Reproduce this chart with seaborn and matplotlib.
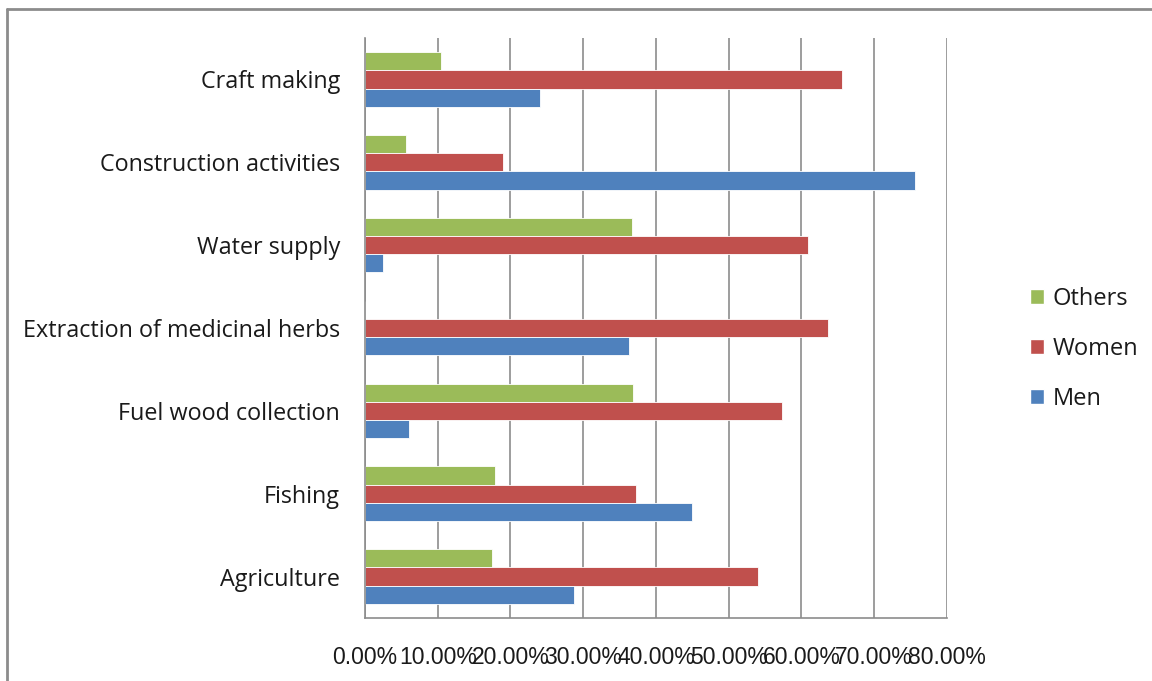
import matplotlib
matplotlib.use("Agg")
import matplotlib.pyplot as plt
import matplotlib.ticker as mticker
from matplotlib.lines import Line2D
from matplotlib.patches import Patch
import numpy as np
import pandas as pd
import seaborn as sns

# values (fractions)
activities = ["Craft making", "Construction activities", "Water supply",
              "Extraction of medicinal herbs", "Fuel wood collection",
              "Fishing", "Agriculture"]
others = [0.105, 0.056, 0.367, 0.0, 0.369, 0.179, 0.175]
women = [0.656, 0.190, 0.609, 0.637, 0.573, 0.373, 0.540]
men = [0.241, 0.756, 0.025, 0.363, 0.060, 0.450, 0.288]

groups = ["Others", "Women", "Men"]
colors = {"Others": "#9BBB59", "Women": "#C0504D", "Men": "#4F81BD"}
x_ticks = np.arange(0, 0.81, 0.1)

df = pd.DataFrame({
    "activity": activities * 3,
    "group": ["Others"] * 7 + ["Women"] * 7 + ["Men"] * 7,
    "share": others + women + men,
})

sns.set_theme(style="white")
plt.rcParams["font.family"] = ["Open Sans", "DejaVu Sans"]

fig = plt.figure(figsize=(11.52, 6.81), dpi=100)
ax = fig.add_axes([0.3168, 0.0925, 0.5052, 0.8517])

sns.barplot(data=df, y="activity", x="share", hue="group",
            order=activities, hue_order=groups, palette=colors,
            saturation=1, orient="h", width=0.66, ax=ax, legend=False,
            edgecolor="white", linewidth=0.6)

ax.set_xlim(0, 0.8)
ax.set_ylim(len(activities) - 0.5, -0.5)
ax.set_xticks(x_ticks)
ax.xaxis.set_major_formatter(mticker.FuncFormatter(lambda v, p: f"{v * 100:.2f}%"))
ax.set_xlabel("")
ax.set_ylabel("")

ax.grid(axis="x", color="#8c8c8c", linewidth=1.2)
ax.set_axisbelow(True)
for s in ["top", "right"]:
    ax.spines[s].set_visible(False)
for s in ["left", "bottom"]:
    ax.spines[s].set_color("#8c8c8c")
    ax.spines[s].set_linewidth(1.2)

# category boundary ticks on the y axis
ax.set_yticks(np.arange(-0.5, len(activities), 1), minor=True)
ax.tick_params(axis="y", which="major", length=0, pad=18, labelsize=16.8,
               labelcolor="#1a1a1a")
ax.tick_params(axis="y", which="minor", length=6, width=1.2, color="#8c8c8c",
               direction="out")
ax.tick_params(axis="x", which="major", length=7, width=1.2, color="#8c8c8c",
               direction="out", pad=13, labelsize=16.5, labelcolor="#1a1a1a")
for lbl in ax.get_xticklabels():
    lbl.set_fontfamily(["Liberation Sans", "DejaVu Sans"])

handles = [Patch(facecolor=colors[g], edgecolor="white", label=g) for g in groups]
fig.legend(handles=handles, loc="center left", bbox_to_anchor=(0.894, 0.488),
           frameon=False, fontsize=17, handlelength=0.6, handleheight=0.6,
           handletextpad=0.35, labelspacing=1.1, borderpad=0, borderaxespad=0,
           labelcolor="#1a1a1a")

# outer chart border (only top and left visible in the reference)
fig.add_artist(Line2D([7 / 1152, 7 / 1152], [0, 1 - 9 / 681],
                      transform=fig.transFigure, color="#8c8c8c", linewidth=2))
fig.add_artist(Line2D([7 / 1152, 1], [1 - 9 / 681, 1 - 9 / 681],
                      transform=fig.transFigure, color="#8c8c8c", linewidth=2))

fig.savefig("out.png", dpi=100)
plt.close(fig)
